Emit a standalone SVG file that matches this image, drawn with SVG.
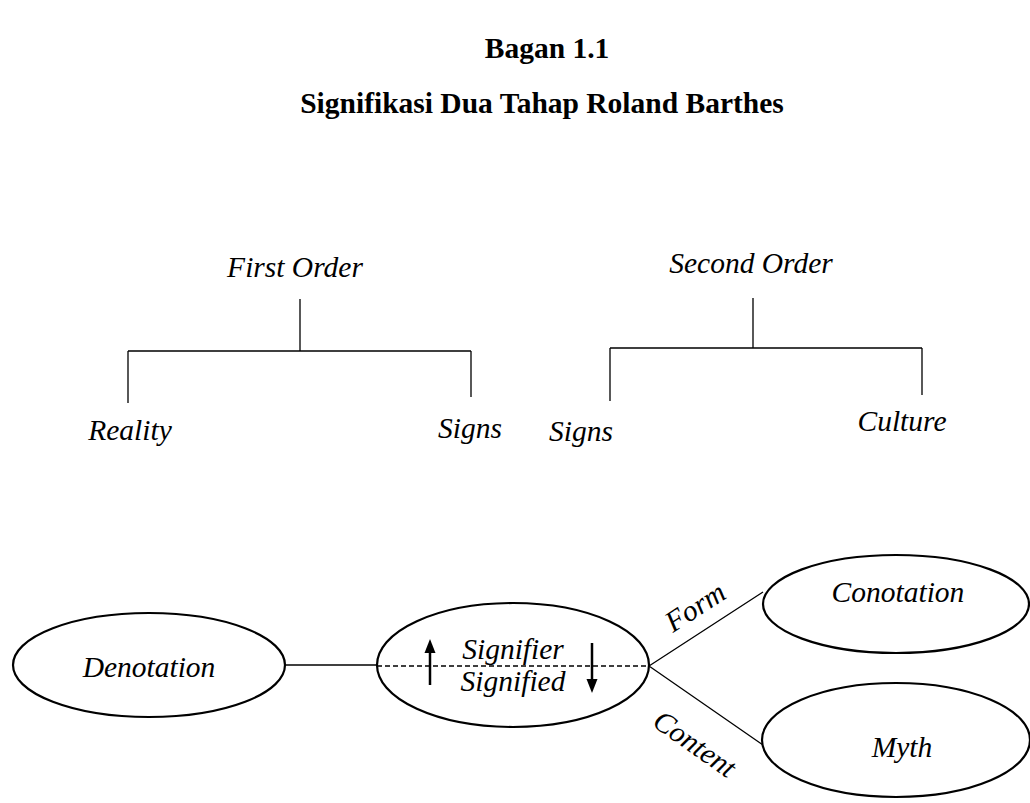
<svg xmlns="http://www.w3.org/2000/svg" width="1030" height="803" viewBox="0 0 1030 803">
<style>
.t{font-family:"Liberation Serif","Times New Roman",serif;font-size:29.5px;font-style:italic;fill:#000;text-anchor:middle}
.h{font-family:"Liberation Serif","Times New Roman",serif;font-size:29.5px;font-weight:bold;fill:#000;text-anchor:middle}
.ln{stroke:#000;stroke-width:1.3;fill:none}
.el{stroke:#000;stroke-width:2.2;fill:#fff}
</style>
<rect width="1030" height="803" fill="#fff"/>
<g id="title">
<text class="h" x="547" y="58">Bagan 1.1</text>
<text class="h" x="542" y="113">Signifikasi Dua Tahap Roland Barthes</text>
</g>
<g id="connectors">
<path class="ln" d="M300 299V351M128 351H471M128 351V403M471 351V397"/>
<path class="ln" d="M753 298V348M610 348H922M610 348V401M922 348V395"/>
<path class="ln" d="M284 665H378"/>
<path class="ln" d="M649 666L763 592M649 666L763 745"/>
</g>
<g id="first-order"><text class="t" x="295" y="277">First Order</text></g>
<g id="reality"><text class="t" x="130" y="440">Reality</text></g>
<g id="signs1"><text class="t" x="470" y="438">Signs</text></g>
<g id="second-order"><text class="t" x="751" y="273">Second Order</text></g>
<g id="signs2"><text class="t" x="581" y="441">Signs</text></g>
<g id="culture"><text class="t" x="902" y="431">Culture</text></g>
<g id="denotation">
<ellipse class="el" cx="149" cy="665" rx="136" ry="52"/>
<text class="t" x="149" y="677">Denotation</text>
</g>
<g id="signifier">
<ellipse class="el" cx="513" cy="665" rx="136" ry="62"/>
<line x1="377" y1="666" x2="649" y2="666" stroke="#000" stroke-width="1.3" stroke-dasharray="5,3"/>
<text class="t" x="513" y="659">Signifier</text>
<text class="t" x="513" y="691">Signified</text>
<path d="M430 685V650" stroke="#000" stroke-width="2.5"/>
<path d="M430 639L424.5 653H435.5Z" fill="#000"/>
<path d="M592 643V680" stroke="#000" stroke-width="2.5"/>
<path d="M592 693L586.5 679H597.5Z" fill="#000"/>
</g>
<g id="conotation">
<ellipse class="el" cx="896" cy="604" rx="133" ry="49"/>
<text class="t" x="898" y="602">Conotation</text>
</g>
<g id="myth">
<ellipse class="el" cx="896" cy="740" rx="134" ry="57"/>
<text class="t" x="902" y="757">Myth</text>
</g>
<g id="labels">
<text class="t" style="text-anchor:start" transform="translate(673 633) rotate(-33)">Form</text>
<text class="t" style="text-anchor:start" transform="translate(651 725) rotate(35)">Content</text>
</g>
</svg>
